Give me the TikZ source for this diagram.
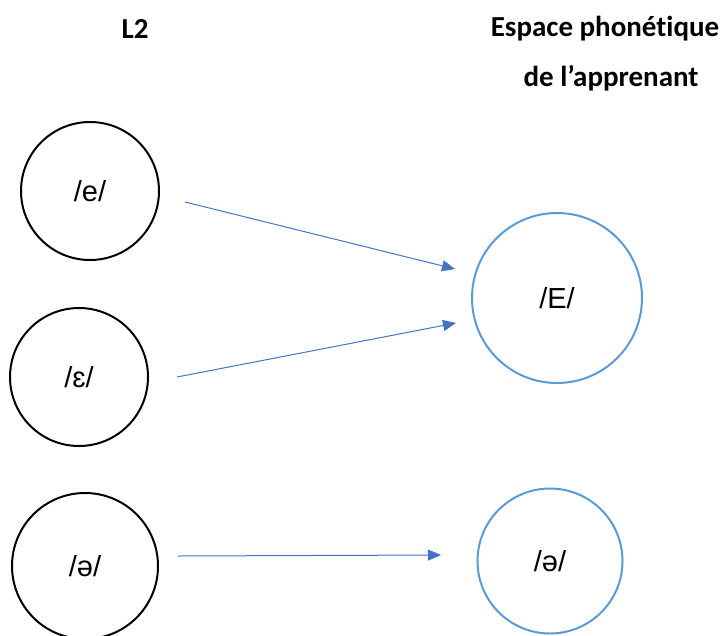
\documentclass[tikz,border=0pt]{standalone}
\usepackage{fontspec}
\setmainfont{Liberation Sans}
\newfontfamily\headfont[Ligatures=NoCommon]{Carlito}
\usetikzlibrary{arrows.meta}
\definecolor{arrowblue}{HTML}{4472C4}
\definecolor{ringblue}{HTML}{5B9BD5}
\begin{document}
\begin{tikzpicture}[x=1pt,y=-1pt,
  head/.style={font=\headfont\bfseries\fontsize{29}{32}\selectfont, inner sep=0pt},
  phon/.style={circle, draw=black, line width=2pt, font=\fontsize{29}{32}\selectfont, inner sep=0pt},
  target/.style={circle, draw=ringblue, line width=2pt, font=\fontsize{29}{32}\selectfont, inner sep=0pt},
  link/.style={draw=arrowblue, line width=1pt, -{Triangle[length=13pt,width=11pt]}}]
\useasboundingbox (0,0) rectangle (722,635);
\node[head] (l2) at (135,29) {L2};
\node[head] (esp) at (605,29) {Espace phonétique};
\node[head] (app) at (611,78) {de l’apprenant};
\node[phon, minimum size=138pt] (e) at (90,191) {/e/};
\node[phon, minimum size=138pt] (eps) at (79,377) {/ɛ/};
\node[phon, minimum size=146pt] (schwa) at (85,566) {/ə/};
\node[target, minimum size=170pt] (E) at (557,298) {/E/};
\node[target, minimum size=145pt] (schwa2) at (550,561) {/ə/};
\coordinate (a1s) at (185,202);
\coordinate (a1e) at (455,269);
\coordinate (a2s) at (177,377);
\coordinate (a2e) at (456,323);
\coordinate (a3s) at (178,556);
\coordinate (a3e) at (441,555);
\draw[link] (a1s) -- (a1e);
\draw[link] (a2s) -- (a2e);
\draw[link] (a3s) -- (a3e);
\end{tikzpicture}
\end{document}
